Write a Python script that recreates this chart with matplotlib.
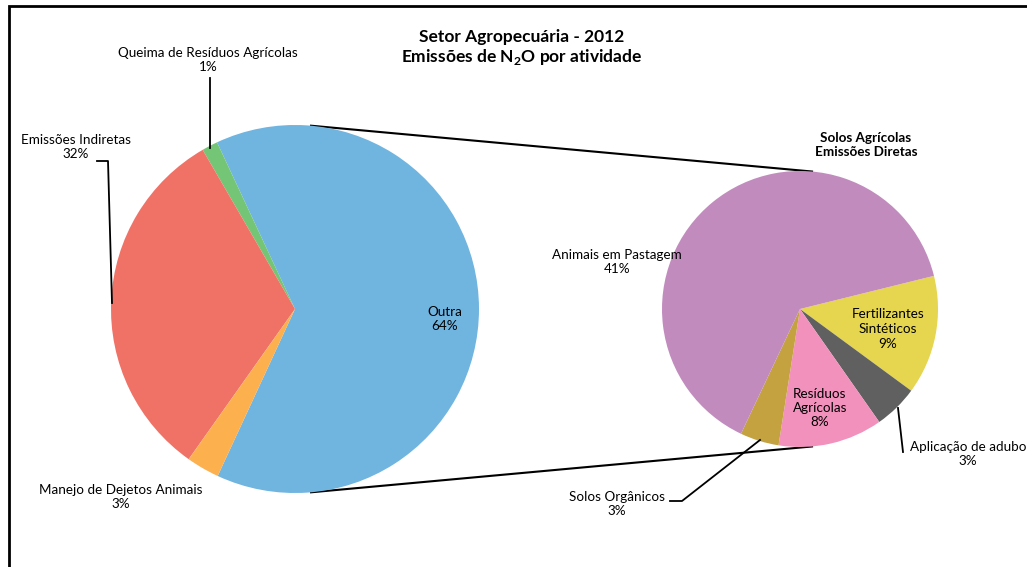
import numpy as np
import matplotlib.pyplot as plt

plt.rcParams['font.family'] = ['Lato', 'DejaVu Sans']

# Pizza principal (% do total de N2O)
setores = ['Outra', 'Queima de Resíduos Agrícolas', 'Emissões Indiretas', 'Manejo de Dejetos Animais']
setor_valores = [63.8, 1.4, 31.8, 2.9]
setor_cores = ['#70B4E0', '#74C576', '#F07266', '#FDB04E']

# Pizza secundaria: Solos Agricolas - Emissoes Diretas
solos = ['Fertilizantes\nSintéticos', 'Aplicação de adubo', 'Resíduos\nAgrícolas', 'Solos Orgânicos', 'Animais em Pastagem']
solos_valores = [8.9, 3.3, 7.8, 2.9, 40.9]
solos_cores = ['#E5D54F', '#606060', '#F291BC', '#C4A23F', '#C18BBE']

W, H = 1027, 567
fig = plt.figure(figsize=(W / 100, H / 100), dpi=100)
ax = fig.add_axes([0, 0, 1, 1])

def Y(y):
    return H - y

c1, r1 = (295, Y(309)), 184
c2, r2 = (800, Y(309)), 138

ang1 = -setor_valores[0] / 100 * 360 / 2
ax.pie(setor_valores, colors=setor_cores, center=c1, radius=r1, startangle=ang1,
       counterclock=True, frame=True, wedgeprops=dict(linewidth=0))
ax.pie(solos_valores, colors=solos_cores, center=c2, radius=r2, startangle=13.9,
       counterclock=False, frame=True, wedgeprops=dict(linewidth=0))
ax.set_xlim(0, W)
ax.set_ylim(0, H)
ax.set_aspect('equal')
ax.axis('off')

# linhas de ligacao entre as pizzas
for a in [85, -85]:
    t = np.radians(a)
    ax.plot([c1[0] + r1 * np.cos(t), c2[0] + r2 * np.cos(t)],
            [c1[1] + r1 * np.sin(t), c2[1] + r2 * np.sin(t)], color='black', lw=1.5, zorder=0)

# moldura
ax.plot([9, 9, W + 5], [-5, Y(6), Y(6)], color='black', lw=2, solid_joinstyle='miter')

fs = 9.7
pct = lambda v: f'{v:.0f}%'

ax.text(522, Y(48), 'Setor Agropecuária - 2012\nEmissões de N$_\\mathregular{2}$O por atividade',
        ha='center', va='center', fontsize=12.5, fontweight='bold', linespacing=1.1)
ax.text(866, Y(145), 'Solos Agrícolas\nEmissões Diretas', ha='center', va='center',
        fontsize=fs, fontweight='bold', linespacing=1.25)

# rotulos pizza principal
ax.text(445, Y(319), f'{setores[0]}\n{pct(setor_valores[0])}', ha='center', va='center', fontsize=fs, linespacing=1.25)
ax.text(208, Y(60), f'{setores[1]}\n{pct(setor_valores[1])}', ha='center', va='center', fontsize=fs, linespacing=1.25)
ax.text(76, Y(147), f'{setores[2]}\n{pct(setor_valores[2])}', ha='center', va='center', fontsize=fs, linespacing=1.25)
ax.text(121, Y(497), f'{setores[3]}\n{pct(setor_valores[3])}', ha='center', va='center', fontsize=fs, linespacing=1.25)
ax.plot([210, 210], [Y(78), Y(148)], color='black', lw=1.3)
ax.plot([97, 108, 112], [Y(161), Y(161), Y(303)], color='black', lw=1.3)

# rotulos pizza secundaria
ax.text(888, Y(329), f'{solos[0]}\n{pct(solos_valores[0])}', ha='center', va='center', fontsize=fs, linespacing=1.25)
ax.text(968, Y(454), f'{solos[1]}\n{pct(solos_valores[1])}', ha='center', va='center', fontsize=fs, linespacing=1.25)
ax.text(820, Y(408), f'{solos[2]}\n{pct(solos_valores[2])}', ha='center', va='center', fontsize=fs, linespacing=1.25)
ax.text(617, Y(504), f'{solos[3]}\n{pct(solos_valores[3])}', ha='center', va='center', fontsize=fs, linespacing=1.25)
ax.text(617, Y(262), f'{solos[4]}\n{pct(solos_valores[4])}', ha='center', va='center', fontsize=fs, linespacing=1.25)
ax.plot([898, 903], [Y(408), Y(452)], color='black', lw=1.3)
ax.plot([670, 682, 760], [Y(501), Y(501), Y(440)], color='black', lw=1.3)

fig.savefig('out.png', dpi=100)
